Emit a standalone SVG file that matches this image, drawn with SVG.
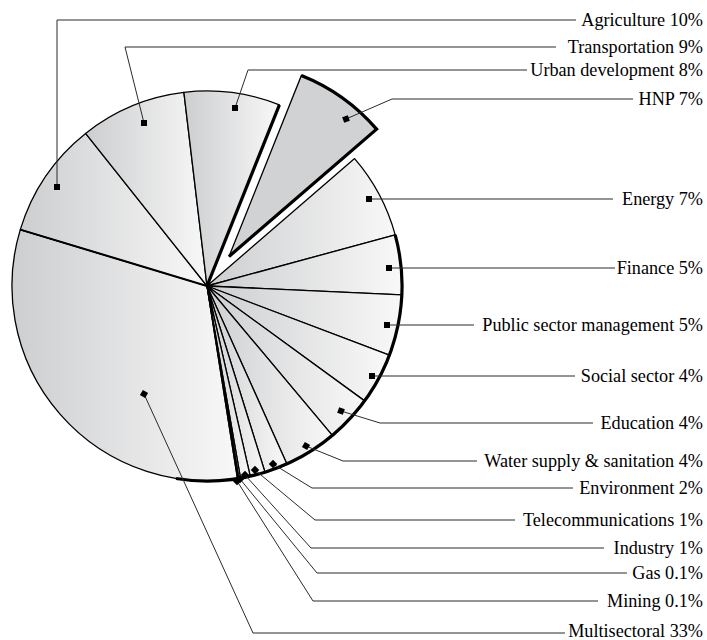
<svg xmlns="http://www.w3.org/2000/svg" width="707" height="640" viewBox="0 0 707 640">
<defs>
<linearGradient id="g" x1="0" y1="0" x2="1" y2="0">
<stop offset="0" stop-color="#cdced0"/>
<stop offset="1" stop-color="#f8f8f8"/>
</linearGradient>
</defs>
<style>
.s{fill:url(#g);stroke:#000;stroke-width:1.3;stroke-linejoin:round}
.h{fill:#d1d2d4;stroke:#000;stroke-width:1.3;stroke-linejoin:miter}
.k{fill:none;stroke:#000;stroke-width:3.2;stroke-linecap:butt}
.l{fill:none;stroke:#2a2a2a;stroke-width:1}
.m{fill:#000}
text{font-family:"Liberation Serif","Times New Roman",serif;font-size:18.2px;fill:#000;text-anchor:end}
</style>
<rect width="707" height="640" fill="#fff"/>
<g id="pie">
<g id="multisectoral"><path class="s" d="M207,286 L237.5,478.6 A195,195 0 0 1 20.3,229.6 Z"/></g>
<g id="agriculture"><path class="s" d="M207,286 L20.3,229.6 A195,195 0 0 1 85.6,133.4 Z"/></g>
<g id="transportation"><path class="s" d="M207,286 L85.6,133.4 A195,195 0 0 1 183.9,92.4 Z"/></g>
<g id="urban"><path class="s" d="M207,286 L183.9,92.4 A195,195 0 0 1 279.4,104.9 Z"/></g>
<g id="energy"><path class="s" d="M207,286 L354.6,158.6 A195,195 0 0 1 395.2,234.9 Z"/></g>
<g id="finance"><path class="s" d="M207,286 L395.2,234.9 A195,195 0 0 1 401.8,294.9 Z"/></g>
<g id="psm"><path class="s" d="M207,286 L401.8,294.9 A195,195 0 0 1 389.3,355.2 Z"/></g>
<g id="social"><path class="s" d="M207,286 L389.3,355.2 A195,195 0 0 1 364.6,400.9 Z"/></g>
<g id="education"><path class="s" d="M207,286 L364.6,400.9 A195,195 0 0 1 332.3,435.4 Z"/></g>
<g id="water"><path class="s" d="M207,286 L332.3,435.4 A195,195 0 0 1 286.9,463.9 Z"/></g>
<g id="environment"><path class="s" d="M207,286 L286.9,463.9 A195,195 0 0 1 265,472.2 Z"/></g>
<g id="telecom"><path class="s" d="M207,286 L265,472.2 A195,195 0 0 1 250.2,476.1 Z"/></g>
<g id="industry"><path class="s" d="M207,286 L250.2,476.1 A195,195 0 0 1 240.5,478.1 Z"/></g>
<g id="gas"><path class="s" d="M207,286 L240.5,478.1 A195,195 0 0 1 238.8,478.4 Z"/></g>
<g id="mining"><path class="s" d="M207,286 L238.8,478.4 A195,195 0 0 1 237.5,478.6 Z"/></g>
<g id="hnp"><path class="h" d="M229,256.5 L301.4,75.4 A195,195 0 0 1 376.6,129.1 Z"/>
<path class="k" d="M301.4,75.4 A195,195 0 0 1 376.6,129.1 L229,256.5"/></g>
<path class="k" d="M207,286 L279.4,104.9"/>
<path class="k" d="M395.2,234.9 A195,195 0 0 1 176,478.5"/>
<path d="M207,286 L20.3,229.6" stroke="#000" stroke-width="2" fill="none"/>
</g>
<g id="connectors">
<path class="l" d="M57,187 L57,20 L576,20"/>
<path class="l" d="M144,123 L125,47 L556,47"/>
<path class="l" d="M235,108 L248,70 L527,70"/>
<path class="l" d="M346,119 L392,99 L633,99"/>
<path class="l" d="M369,199 L613,199"/>
<path class="l" d="M389,268 L615,268"/>
<path class="l" d="M387,325 L474,325"/>
<path class="l" d="M372,376 L575,376"/>
<path class="l" d="M341,411 L380,423 L593,423"/>
<path class="l" d="M306,446 L343,461 L477,461"/>
<path class="l" d="M273,464 L312,488 L573,488"/>
<path class="l" d="M255,470 L315,520 L515,520"/>
<path class="l" d="M245,475 L311,548 L604,548"/>
<path class="l" d="M240,479 L317,573 L627,573"/>
<path class="l" d="M237,481 L313,601 L598,601"/>
<path class="l" d="M144,394 L253,633 L565,633"/>
<rect class="m" x="54" y="184" width="6" height="6"/>
<rect class="m" x="141" y="120" width="6" height="6"/>
<rect class="m" x="232" y="105" width="6" height="6"/>
<rect class="m" x="343" y="116" width="6" height="6" transform="rotate(-20 346 119)"/>
<rect class="m" x="366" y="196" width="6" height="6"/>
<rect class="m" x="386" y="265" width="6" height="6"/>
<rect class="m" x="384" y="322" width="6" height="6"/>
<rect class="m" x="369" y="373" width="6" height="6"/>
<rect class="m" x="338" y="408" width="6" height="6" transform="rotate(20 341 411)"/>
<rect class="m" x="303" y="443" width="6" height="6" transform="rotate(30 306 446)"/>
<rect class="m" x="270" y="461" width="6" height="6" transform="rotate(45 273 464)"/>
<rect class="m" x="252" y="467" width="6" height="6" transform="rotate(45 255 470)"/>
<rect class="m" x="242" y="472" width="6" height="6" transform="rotate(45 245 475)"/>
<rect class="m" x="237" y="476" width="6" height="6" transform="rotate(45 240 479)"/>
<rect class="m" x="234" y="478" width="6" height="6" transform="rotate(45 237 481)"/>
<rect class="m" x="141" y="391" width="6" height="6" transform="rotate(30 144 394)"/>
</g>
<g id="labels">
<text x="703" y="26">Agriculture 10%</text>
<text x="703" y="53">Transportation 9%</text>
<text x="703" y="76">Urban development 8%</text>
<text x="703" y="105">HNP 7%</text>
<text x="703" y="205">Energy 7%</text>
<text x="703" y="274">Finance 5%</text>
<text x="703" y="331">Public sector management 5%</text>
<text x="703" y="382">Social sector 4%</text>
<text x="703" y="429">Education 4%</text>
<text x="703" y="467">Water supply &amp; sanitation 4%</text>
<text x="703" y="494">Environment 2%</text>
<text x="703" y="526">Telecommunications 1%</text>
<text x="703" y="554">Industry 1%</text>
<text x="703" y="579">Gas 0.1%</text>
<text x="703" y="607">Mining 0.1%</text>
<text x="703" y="637">Multisectoral 33%</text>
</g>
</svg>
